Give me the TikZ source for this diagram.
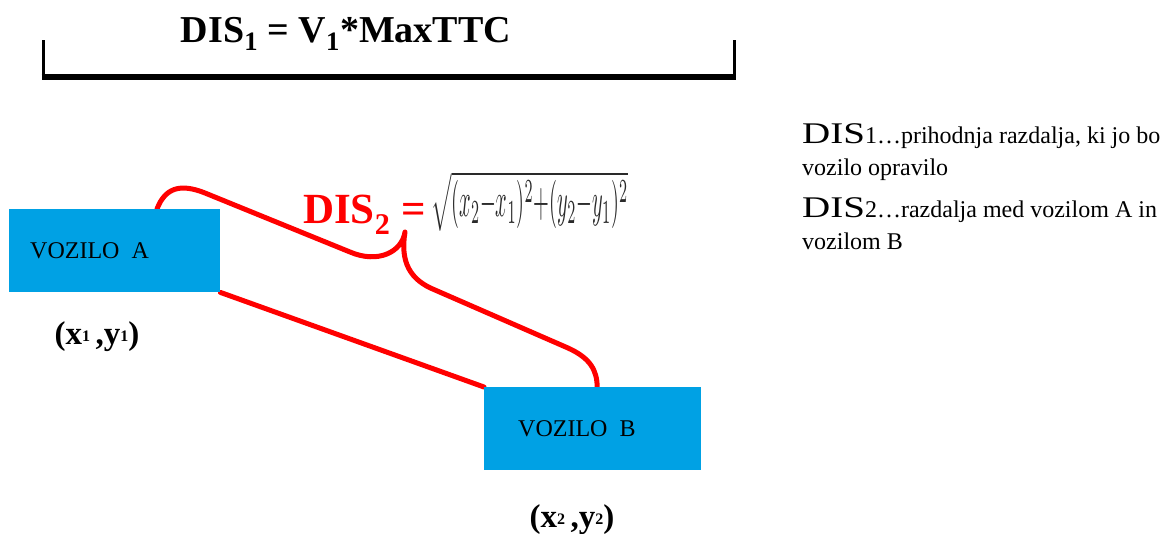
\documentclass[tikz,border=0pt]{standalone}
\usepackage{fontspec}
\setmainfont{Liberation Serif}
\usepackage{graphicx}
\usetikzlibrary{calc}
\definecolor{boxblue}{HTML}{00A1E4}
\definecolor{linered}{HTML}{FF0000}
\definecolor{formulagray}{HTML}{2A2A2A}
\pgfdeclarelayer{background}
\pgfsetlayers{background,main}
\newcommand\lowidx[1]{\raisebox{0.2ex}{\fontsize{16}{16}\selectfont #1}}
\begin{document}
\begin{tikzpicture}[x=1pt,y=-1pt,
  vehicle/.style={fill=boxblue, draw=none, minimum height=83pt, align=left,
    anchor=north west, inner ysep=0pt, font=\fontsize{24}{28}\selectfont},
  link/.style={draw=linered, line width=5pt, line cap=round, line join=round},
  coordlabel/.style={font=\fontsize{33}{36}\selectfont\bfseries},
  note/.style={anchor=north west, align=left, inner sep=0pt,
    font=\fontsize{24}{32}\selectfont}]
\useasboundingbox (0,0) rectangle (1173,533);

% title and its bracket
\node[font=\fontsize{38}{46}\selectfont\bfseries, anchor=base] (title) at (346,42)
  {DIS\textsubscript{1} = V\textsubscript{1}*MaxTTC};
\draw[line width=3pt] (43,40) -- (43,77);
\draw[line width=3pt] (734,40) -- (734,77);
\draw[line width=6pt] (41.5,77) -- (735.5,77);

% the two vehicles
\node[vehicle, inner xsep=21pt, text width=169pt] (A) at (9,209)
  {\raisebox{-4pt}{VOZILO\hspace{12pt}A}};
\node[vehicle, inner xsep=34pt, text width=149pt] (B) at (484,387)
  {\raisebox{-3pt}{VOZILO\hspace{12pt}B}};

% distance between the vehicles and its curly brace
\begin{pgfonlayer}{background}
\draw[link] (A.south east) -- (B.north west);
\draw[link] ($(A.north west)+(148,0)$) .. controls (165,188) and (180,183) .. (205,193)
  -- (350,252) .. controls (378,264) and (402,252) .. (405,232)
  .. controls (400,262) and (410,280) .. (435,290)
  -- (568,348) .. controls (590,358) and (597,370) .. ([xshift=4.5pt]B.north);
\end{pgfonlayer}

% formula for the distance
\node[font=\fontsize{43}{50}\selectfont\bfseries, text=linered, anchor=base west,
  inner sep=0pt] (dis2) at (303,223) {DIS\textsubscript{2} =};
\node[anchor=north west, inner sep=0pt, text=formulagray] (dist) at (431,171)
  {\resizebox{197pt}{45pt}{$\sqrt{(x_2{-}x_1)^2{+}(y_2{-}y_1)^2}$}};

% positions
\node[coordlabel] (p1) at (97,337) {(x\lowidx{1}\,,y\lowidx{1})};
\node[coordlabel] (p2) at (572,520) {(x\lowidx{2}\,,y\lowidx{2})};

% legend
\node[note] (n1) at (802,123)
  {{\fontsize{30}{32}\selectfont\scalebox{1.3}[1]{DIS}}1…prihodnja razdalja, ki jo bo\\vozilo opravilo};
\node[note] (n2) at (802,197)
  {{\fontsize{30}{32}\selectfont\scalebox{1.3}[1]{DIS}}2…razdalja med vozilom A in\\vozilom B};
\end{tikzpicture}
\end{document}
